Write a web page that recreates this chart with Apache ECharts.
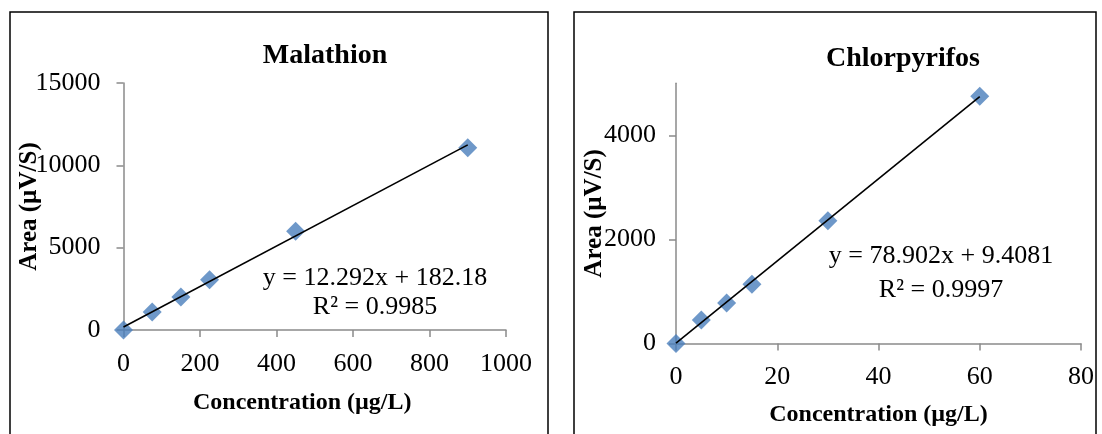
<!DOCTYPE html>
<html>
<head>
<meta charset="utf-8">
<title>Calibration curves</title>
<script src="https://cdn.jsdelivr.net/npm/echarts@6/dist/echarts.min.js"></script>
<style>
  html, body { margin: 0; padding: 0; background: #fff; }
  #chart { width: 1102px; height: 434px; }
</style>
</head>
<body>
<div id="chart"></div>
<script>
// Malathion calibration standards
const malConc = [0, 75, 150, 225, 450, 900];
const malArea = [0, 1100, 2000, 3050, 6000, 11070];
// Linear fit: slope, intercept, R²
const malFit = [12.292, 182.18, 0.9985];
const malXTicks = [0, 200, 400, 600, 800, 1000];
const malYTicks = [0, 5000, 10000, 15000];

// Chlorpyrifos calibration standards
const chlConc = [0, 5, 10, 15, 30, 60];
const chlArea = [0, 450, 780, 1140, 2360, 4750];
const chlFit = [78.902, 9.4081, 0.9997];
const chlXTicks = [0, 20, 40, 60, 80];
const chlYTicks = [0, 2000, 4000];

const titles = ['Malathion', 'Chlorpyrifos'];
const xName = 'Concentration (µg/L)';
const yName = 'Area (µV/S)';

const FONT = "'Liberation Serif', 'Times New Roman', serif";
const AXIS_GREY = '#8a8a8a';
const MARK_BLUE = '#4a7ebb';

function pairs(xs, ys) { return xs.map((x, i) => [x, ys[i]]); }
function fitLine(xs, fit) {
  const lo = Math.min(...xs), hi = Math.max(...xs);
  return [[lo, fit[0] * lo + fit[1]], [hi, fit[0] * hi + fit[1]]];
}
function eqText(fit) { return 'y = ' + fit[0] + 'x + ' + fit[1]; }
function r2Text(fit) { return 'R² = ' + fit[2]; }
const plain = (v) => String(v);

function xAxis(idx, ticks, nameGap, namePad) {
  return {
    type: 'value', gridIndex: idx,
    min: ticks[0], max: ticks[ticks.length - 1], interval: ticks[1] - ticks[0],
    name: xName, nameLocation: 'middle', nameGap: nameGap, nameMoveOverlap: false,
    nameTextStyle: { fontFamily: FONT, fontSize: 24, fontWeight: 'bold', color: '#000', padding: namePad },
    axisLine: { show: true, lineStyle: { color: AXIS_GREY, width: 1.5 } },
    axisTick: { show: true, inside: false, length: 7, lineStyle: { color: AXIS_GREY, width: 1.5 } },
    axisLabel: { fontFamily: FONT, fontSize: 26, color: '#000', margin: 21, formatter: plain },
    splitLine: { show: false }
  };
}
function yAxis(idx, ticks, max, nameGap, labelMargin) {
  return {
    type: 'value', gridIndex: idx,
    min: 0, max: max,
    name: yName, nameLocation: 'middle', nameGap: nameGap, nameRotate: 90, nameMoveOverlap: false,
    nameTextStyle: { fontFamily: FONT, fontSize: 25, fontWeight: 'bold', color: '#000' },
    axisLine: { show: true, lineStyle: { color: AXIS_GREY, width: 1.5 } },
    axisTick: { show: true, inside: false, length: 7, customValues: ticks, lineStyle: { color: AXIS_GREY, width: 1.5 } },
    axisLabel: { fontFamily: FONT, fontSize: 26, color: '#000', margin: labelMargin, customValues: ticks, formatter: plain },
    splitLine: { show: false }
  };
}
function scatter(idx, xs, ys) {
  return {
    type: 'scatter', xAxisIndex: idx, yAxisIndex: idx,
    data: pairs(xs, ys), symbol: 'diamond', symbolSize: 19,
    itemStyle: { color: MARK_BLUE }, z: 2, silent: true
  };
}
function trend(idx, xs, fit) {
  return {
    type: 'line', xAxisIndex: idx, yAxisIndex: idx,
    data: fitLine(xs, fit), showSymbol: false, symbol: 'none',
    lineStyle: { color: '#000', width: 1.6 }, z: 3, silent: true
  };
}
function txt(x, y, s, size, bold) {
  return {
    type: 'text', x: x, y: y, silent: true,
    style: { text: s, fontFamily: FONT, fontSize: size, fontWeight: bold ? 'bold' : 'normal',
             fill: '#000', align: 'center', verticalAlign: 'middle' }
  };
}
function frame(x, w) {
  return { type: 'rect', shape: { x: x, y: 12, width: w, height: 440 }, silent: true,
           style: { fill: 'none', stroke: '#000', lineWidth: 1.5 } };
}

const chart = echarts.init(document.getElementById('chart'), null, { renderer: 'canvas' });
chart.setOption({
  animation: false,
  backgroundColor: '#fff',
  grid: [
    { left: 123.5, top: 83, width: 382.5, height: 247, outerBoundsMode: 'none' },
    { left: 676, top: 83.3, width: 405, height: 260.2, outerBoundsMode: 'none' }
  ],
  xAxis: [
    xAxis(0, malXTicks, 61, [0, 25, 0, 0]),
    xAxis(1, chlXTicks, 59, 0)
  ],
  yAxis: [
    yAxis(0, malYTicks, malYTicks[malYTicks.length - 1], 81, 23),
    yAxis(1, chlYTicks, 5000, 68.5, 20)
  ],
  series: [
    scatter(0, malConc, malArea), trend(0, malConc, malFit),
    scatter(1, chlConc, chlArea), trend(1, chlConc, chlFit)
  ],
  graphic: [
    frame(10, 538), frame(574, 522),
    txt(325, 56, titles[0], 28, true),
    txt(903, 59, titles[1], 28, true),
    txt(375, 278, eqText(malFit), 26, false),
    txt(375, 307, r2Text(malFit), 26, false),
    txt(941, 256.5, eqText(chlFit), 26, false),
    txt(941, 290, r2Text(chlFit), 26, false)
  ]
});
</script>
</body>
</html>
